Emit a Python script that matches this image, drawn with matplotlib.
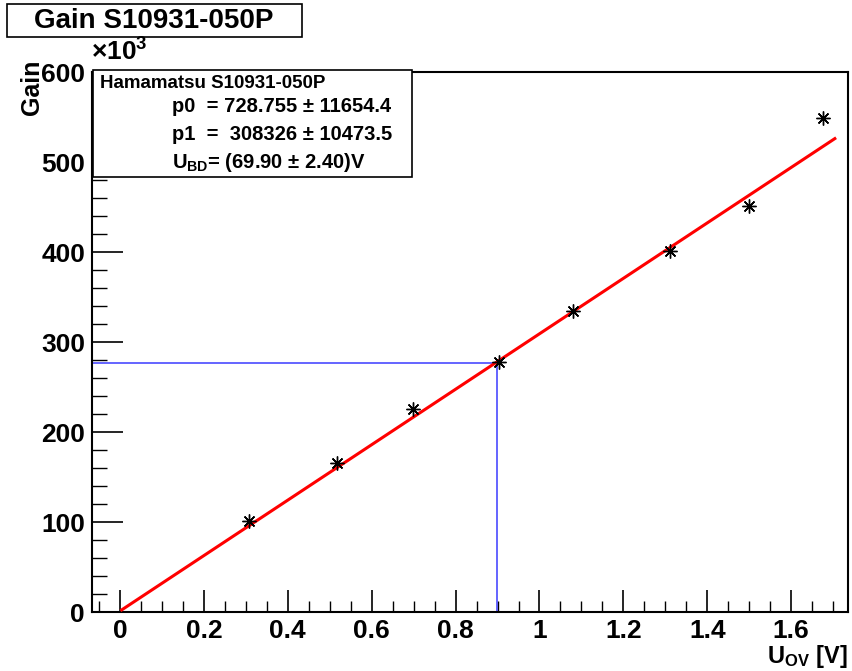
import matplotlib
matplotlib.use("Agg")
import matplotlib.pyplot as plt
from matplotlib.patches import Rectangle
from matplotlib.ticker import MultipleLocator, FuncFormatter

plt.rcParams['font.family'] = ['Liberation Sans', 'DejaVu Sans']
plt.rcParams['font.weight'] = 'bold'
plt.rcParams['mathtext.fontset'] = 'custom'
plt.rcParams['mathtext.rm'] = 'Liberation Sans:bold'
plt.rcParams['mathtext.bf'] = 'Liberation Sans:bold'
plt.rcParams['mathtext.it'] = 'Liberation Sans:bold'

# --- data (gain in units of 10^3) ---
u_ov = [0.308, 0.517, 0.698, 0.903, 1.080, 1.311, 1.500, 1.676]
gain = [101.0, 165.6, 225.6, 277.8, 334.4, 401.0, 451.0, 548.9]

# fit line end points
fit_x = [0.004, 1.704]
fit_y = [2.3, 526.0]

# marked working point
mark_x = 0.898
mark_y = 277.2

title = "Gain S10931-050P"
stats_head = "Hamamatsu S10931-050P"
stats_lines = ["p0  = 728.755 \u00b1 11654.4",
               "p1  =  308326 \u00b1 10473.5",
               r"$\mathbf{U_{BD}}$= (69.90 " + "\u00b1" + " 2.40)V"]

W, H = 852, 671
fig = plt.figure(figsize=(W / 100, H / 100), dpi=100)

def fx(px):
    return px / W

def fy(py):
    return 1 - py / H

ax = fig.add_axes([fx(92), fy(612), fx(848) - fx(92), fy(72) - fy(612)])
ax.set_xlim(-0.0667, 1.7354)
ax.set_ylim(0, 600)

ax.plot(fit_x, fit_y, color='#ff0000', lw=2.2, zorder=3)
ax.plot([ax.get_xlim()[0], mark_x], [mark_y, mark_y], color='#4a4aff', lw=1.2, zorder=2)
ax.plot([mark_x, mark_x], [0, mark_y], color='#4a4aff', lw=1.2, zorder=2)
ax.plot(u_ov, gain, ls='none', marker=(8, 2, 0), ms=10, mew=1.0, color='black', zorder=4)

ax.xaxis.set_major_locator(MultipleLocator(0.2))
ax.xaxis.set_minor_locator(MultipleLocator(0.05))
ax.yaxis.set_major_locator(MultipleLocator(100))
ax.yaxis.set_minor_locator(MultipleLocator(20))
ax.xaxis.set_major_formatter(FuncFormatter(lambda v, p: "%g" % round(v, 2)))
ax.tick_params(axis='x', which='major', direction='in', length=16, width=1.2, labelsize=19, pad=5)
ax.tick_params(axis='x', which='minor', direction='in', length=8, width=1.0)
ax.tick_params(axis='y', which='major', direction='in', length=22, width=1.2, labelsize=19, pad=5)
ax.tick_params(axis='y', which='minor', direction='in', length=11, width=1.0)
for s in ax.spines.values():
    s.set_linewidth(1.5)

# axis titles (ROOT style, aligned to the ends)
fig.text(fx(848), fy(670), r"$\mathbf{U_{OV}}$ [V]", ha='right', va='bottom', fontsize=17)
fig.text(fx(32), fy(60), "Gain", rotation=90, ha='center', va='top', fontsize=18)
fig.text(fx(91), fy(61), "\u00d7" + r"$\mathbf{10^{3}}$", ha='left', va='baseline', fontsize=19)

# title box
fig.add_artist(Rectangle((fx(7), fy(37)), fx(302) - fx(7), fy(4) - fy(37),
                         transform=fig.transFigure, facecolor='white', edgecolor='black', lw=1.2))
fig.text(fx(154), fy(21), title, ha='center', va='center', fontsize=20)

# stats box
fig.add_artist(Rectangle((fx(93), fy(177)), fx(412) - fx(93), fy(70) - fy(177),
                         transform=fig.transFigure, facecolor='white', edgecolor='black', lw=1.2, zorder=5))
fig.text(fx(100), fy(83), stats_head, ha='left', va='center', fontsize=13.5, zorder=6)
for i, line in enumerate(stats_lines):
    fig.text(fx(172), fy(107 + 27.5 * i), line, ha='left', va='center', fontsize=14.5, zorder=6)

fig.savefig("out.png", dpi=100)
